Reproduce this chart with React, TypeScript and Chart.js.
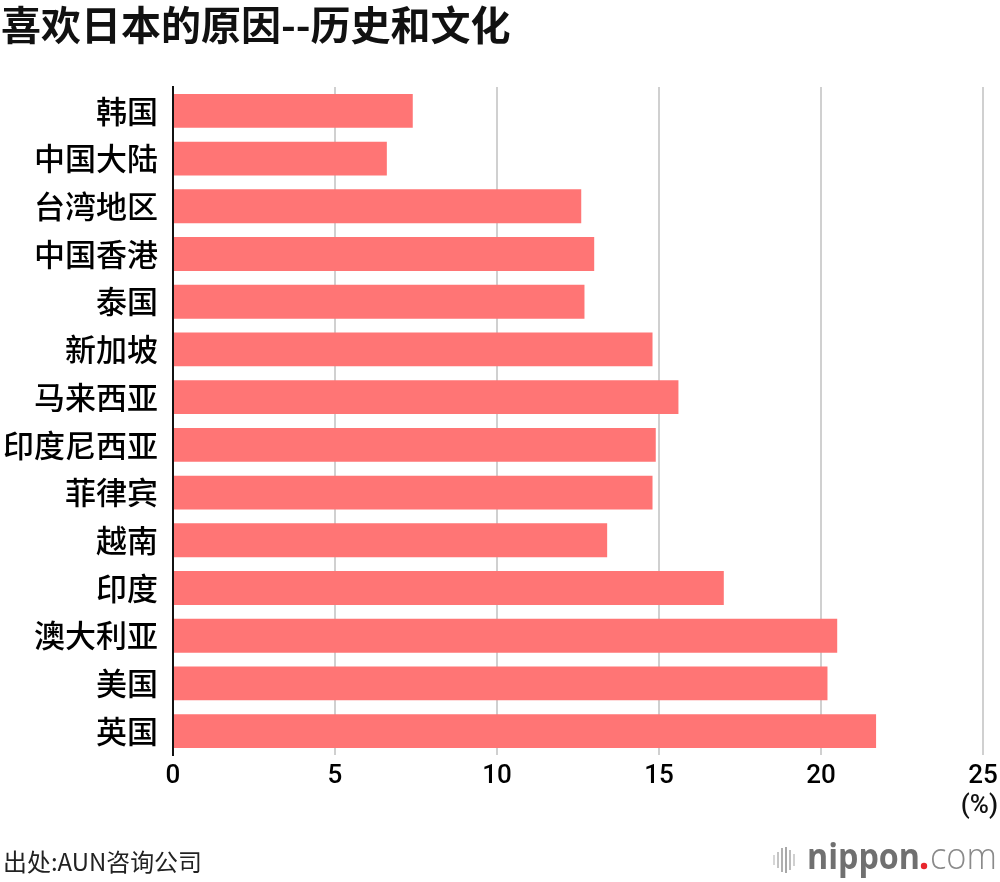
import { useEffect, useRef } from "react"
import { Chart, registerables } from "chart.js"

Chart.register(...registerables)

const categories = [
  "韩国",
  "中国大陆",
  "台湾地区",
  "中国香港",
  "泰国",
  "新加坡",
  "马来西亚",
  "印度尼西亚",
  "菲律宾",
  "越南",
  "印度",
  "澳大利亚",
  "美国",
  "英国",
]
const values = [7.4, 6.6, 12.6, 13.0, 12.7, 14.8, 15.6, 14.9, 14.8, 13.4, 17.0, 20.5, 20.2, 21.7]
const xMin = 0
const xMax = 25
const xStep = 5

const title = "喜欢日本的原因--历史和文化"
const unitLabel = "(%)"
const sourceText = "出处:AUN咨询公司"

const CJK = "'Noto Sans CJK SC', 'Noto Sans', sans-serif"
const NUM = "Roboto, 'Noto Sans', sans-serif"

// text squeezed/stretched to a given width
function fitText(ctx: CanvasRenderingContext2D, text: string, x: number, y: number, w: number) {
  const m = ctx.measureText(text).width
  ctx.save()
  ctx.translate(x, y)
  ctx.scale(w / m, 1)
  ctx.fillText(text, 0, 0)
  ctx.restore()
}

const decorPlugin = {
  id: "decor",
  afterDraw(chart: Chart) {
    const ctx = chart.ctx
    ctx.save()

    // title
    ctx.fillStyle = "#111"
    ctx.font = `bold 40px ${CJK}`
    ctx.textBaseline = "middle"
    ctx.textAlign = "left"
    ctx.fillText(title, 1, 25)

    // unit
    ctx.font = `500 26px ${NUM}`
    ctx.textAlign = "right"
    ctx.fillStyle = "#111"
    ctx.fillText(unitLabel, 998, 806)

    // source
    ctx.textAlign = "left"
    ctx.font = `24px ${CJK}`
    ctx.fillStyle = "#222"
    fitText(ctx, sourceText, 3, 862, 199)

    // logo icon
    const bars = [
      [773, 10, "#d6d6d6"],
      [777, 16, "#c4c4c4"],
      [781, 24, "#b0b0b0"],
      [785, 26, "#a8a8a8"],
      [789, 20, "#bcbcbc"],
      [793, 12, "#d0d0d0"],
    ] as const
    for (const [bx, h, c] of bars) {
      ctx.fillStyle = c
      ctx.fillRect(bx, 860 - h / 2, 2, h)
    }

    // logo text
    ctx.textBaseline = "alphabetic"
    ctx.textAlign = "left"
    ctx.fillStyle = "#707070"
    ctx.font = `bold 36px 'Open Sans', 'Noto Sans', sans-serif`
    fitText(ctx, "nippon", 807, 869, 113)
    ctx.fillStyle = "#e8262d"
    ctx.beginPath()
    ctx.arc(924, 866, 3.2, 0, Math.PI * 2)
    ctx.fill()
    ctx.fillStyle = "#8a8a8a"
    ctx.font = `300 36px 'Open Sans', 'Noto Sans', sans-serif`
    fitText(ctx, "com", 930, 869, 67)

    ctx.restore()
  },
}

export default function App() {
  const chartRef = useRef<HTMLCanvasElement>(null)
  const chartInstance = useRef<Chart | null>(null)

  useEffect(() => {
    document.body.style.margin = "0"
    if (!chartRef.current) return

    if (chartInstance.current) {
      chartInstance.current.destroy()
    }

    const ctx = chartRef.current.getContext("2d")
    if (!ctx) return

    chartInstance.current = new Chart(ctx, {
      type: "bar",
      data: {
        labels: categories,
        datasets: [
          {
            data: values,
            backgroundColor: "rgb(255, 117, 117)",
            borderWidth: 0,
            barPercentage: 0.71,
            categoryPercentage: 1,
          },
        ],
      },
      options: {
        indexAxis: "y",
        responsive: false,
        animation: false,
        devicePixelRatio: 1,
        layout: {
          padding: { top: 87, right: 17, left: 0, bottom: 0 },
        },
        scales: {
          x: {
            min: xMin,
            max: xMax,
            ticks: {
              stepSize: xStep,
              color: "#000",
              padding: 6,
              font: { family: NUM, size: 26, weight: 500 },
            },
            grid: {
              color: "#d0d0d0",
              lineWidth: 2,
              drawTicks: false,
            },
            border: { display: false },
            afterFit(scale: any) {
              scale.height = 127
              scale.paddingLeft = 0
              scale.paddingRight = 0
            },
          },
          y: {
            ticks: {
              color: "#000",
              padding: 15,
              font: { family: CJK, size: 31, weight: 500 },
            },
            grid: { display: false, drawTicks: false },
            border: { display: true, color: "#111", width: 2 },
            afterFit(scale: any) {
              scale.width = 173
            },
          },
        },
        plugins: {
          legend: { display: false },
          tooltip: { enabled: false },
        },
      },
      plugins: [decorPlugin],
    })

    return () => {
      if (chartInstance.current) {
        chartInstance.current.destroy()
        chartInstance.current = null
      }
    }
  }, [])

  return (
    <div style={{ width: 1000, height: 882 }}>
      <canvas ref={chartRef} width={1000} height={882} />
    </div>
  )
}
